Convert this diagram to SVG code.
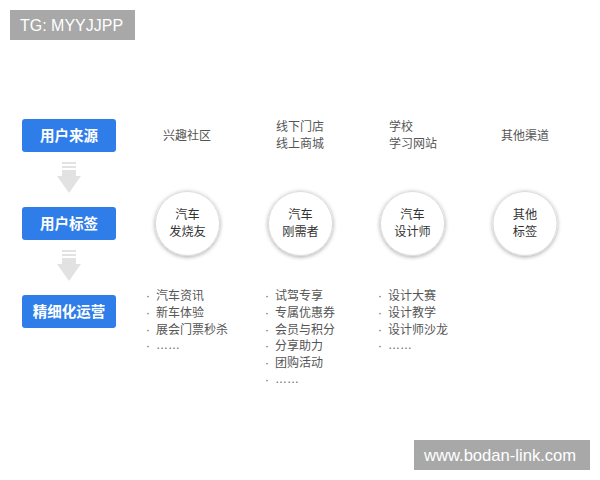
<svg xmlns="http://www.w3.org/2000/svg" width="600" height="480" viewBox="0 0 600 480">
<defs>
<filter id="sh" x="-30%" y="-30%" width="160%" height="160%">
<feDropShadow dx="0" dy="1" stdDeviation="2" flood-color="#000" flood-opacity="0.35"/>
</filter>
<g id="arrow">
<rect x="62" y="0" width="14" height="2"/>
<rect x="62" y="4" width="14" height="2"/>
<rect x="62" y="8" width="14" height="6"/>
<polygon points="57,14 81,14 69,31"/>
</g>
</defs>
<style>
.box{fill:#2f7de9}
.bt{font-family:"Noto Sans CJK SC",sans-serif;font-size:14.5px;font-weight:bold;fill:#fff;text-anchor:middle}
.arr{fill:#e2e2e2}
.c{fill:#fff;stroke:#dcdcdc;stroke-width:1}
.ct{font-family:"Noto Sans CJK SC",sans-serif;font-size:12.2px;fill:#333;text-anchor:middle}
.t{font-family:"Noto Sans CJK SC",sans-serif;font-size:12px;fill:#555}
.l{font-family:"Noto Sans CJK SC",sans-serif;font-size:12px;fill:#555}
.b{font-family:"Liberation Sans",sans-serif;font-size:12px;fill:#666}
.d{font-family:"Liberation Sans",sans-serif;font-size:12px;fill:#666}
.wm{fill:#a8a8a8}
.wt{font-family:"Liberation Sans",sans-serif;font-size:16px;fill:#fff}
</style>
<rect width="600" height="480" fill="#fff"/>
<g id="tg"><rect class="wm" x="10" y="10" width="125" height="30"/><text class="wt" x="20" y="31">TG: MYYJJPP</text></g>
<g id="n-source"><rect class="box" x="22" y="119" width="94" height="33" rx="3"/><text class="bt" x="69" y="141">用户来源</text></g>
<g id="n-tag"><rect class="box" x="22" y="207" width="94" height="33" rx="3"/><text class="bt" x="69" y="229">用户标签</text></g>
<g id="n-ops"><rect class="box" x="22" y="295" width="94" height="33" rx="3"/><text class="bt" x="69" y="317">精细化运营</text></g>
<g id="connectors" class="arr">
<use href="#arrow" x="0" y="162"/>
<use href="#arrow" x="0" y="250"/>
</g>
<g id="src1"><text class="t" x="187" y="139.5" text-anchor="middle">兴趣社区</text></g>
<g id="src2"><text class="t" x="276" y="131">线下门店</text><text class="t" x="276" y="148">线上商城</text></g>
<g id="src3"><text class="t" x="389" y="131">学校</text><text class="t" x="389" y="148">学习网站</text></g>
<g id="src4"><text class="t" x="525" y="139.5" text-anchor="middle">其他渠道</text></g>
<g id="c1"><circle class="c" cx="187.5" cy="223.5" r="32" filter="url(#sh)"/><text class="ct" x="187.5" y="219">汽车</text><text class="ct" x="187.5" y="236">发烧友</text></g>
<g id="c2"><circle class="c" cx="300.5" cy="223.5" r="32" filter="url(#sh)"/><text class="ct" x="300.5" y="219">汽车</text><text class="ct" x="300.5" y="236">刚需者</text></g>
<g id="c3"><circle class="c" cx="412.5" cy="223.5" r="32" filter="url(#sh)"/><text class="ct" x="412.5" y="219">汽车</text><text class="ct" x="412.5" y="236">设计师</text></g>
<g id="c4"><circle class="c" cx="525" cy="223.5" r="32" filter="url(#sh)"/><text class="ct" x="525" y="219">其他</text><text class="ct" x="525" y="236">标签</text></g>
<g id="list1">
<text class="b" x="146" y="299.5">·</text><text class="l" x="156" y="299.5">汽车资讯</text>
<text class="b" x="146" y="316.5">·</text><text class="l" x="156" y="316.5">新车体验</text>
<text class="b" x="146" y="333.5">·</text><text class="l" x="156" y="333.5">展会门票秒杀</text>
<text class="b" x="146" y="350">·</text><text class="d" x="156" y="349">……</text>
</g>
<g id="list2">
<text class="b" x="265" y="299.5">·</text><text class="l" x="275" y="299.5">试驾专享</text>
<text class="b" x="265" y="316.5">·</text><text class="l" x="275" y="316.5">专属优惠券</text>
<text class="b" x="265" y="333.5">·</text><text class="l" x="275" y="333.5">会员与积分</text>
<text class="b" x="265" y="350">·</text><text class="l" x="275" y="350">分享助力</text>
<text class="b" x="265" y="367">·</text><text class="l" x="275" y="367">团购活动</text>
<text class="b" x="265" y="384">·</text><text class="d" x="275" y="383">……</text>
</g>
<g id="list3">
<text class="b" x="378" y="299.5">·</text><text class="l" x="388" y="299.5">设计大赛</text>
<text class="b" x="378" y="316.5">·</text><text class="l" x="388" y="316.5">设计教学</text>
<text class="b" x="378" y="333.5">·</text><text class="l" x="388" y="333.5">设计师沙龙</text>
<text class="b" x="378" y="350">·</text><text class="d" x="388" y="349">……</text>
</g>
<g id="wmark"><rect class="wm" x="414" y="440" width="176" height="30"/><text class="wt" x="424" y="461" style="font-size:16.6px">www.bodan-link.com</text></g>
</svg>
